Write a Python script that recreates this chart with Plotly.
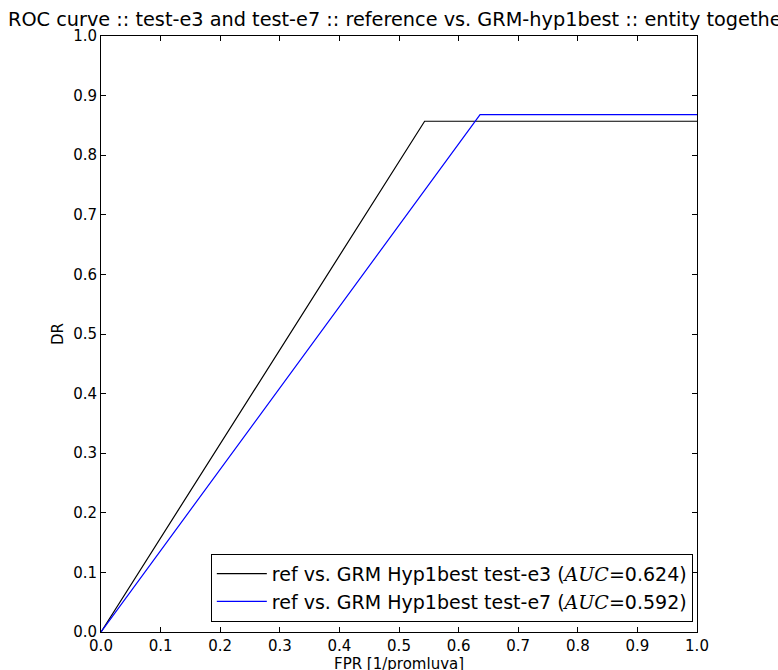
import plotly.graph_objects as go

# Data
fpr_e3 = [0.0, 0.543, 1.0]
dr_e3 = [0.0, 0.857, 0.857]
fpr_e7 = [0.0, 0.636, 1.0]
dr_e7 = [0.0, 0.868, 0.868]
auc_e3 = 0.624
auc_e7 = 0.592
tick_vals = [0.0, 0.1, 0.2, 0.3, 0.4, 0.5, 0.6, 0.7, 0.8, 0.9, 1.0]
tick_text = ["0.0", "0.1", "0.2", "0.3", "0.4", "0.5", "0.6", "0.7", "0.8", "0.9", "1.0"]

FONT = "DejaVu Sans"

def label(name, auc):
    return (f"ref vs. GRM Hyp1best {name} ("
            f"<span style='font-family:DejaVu Serif,serif'><i>AUC</i></span>={auc:.3f})")

fig = go.Figure()
fig.add_trace(go.Scatter(x=fpr_e3, y=dr_e3, mode="lines",
                         line=dict(color="black", width=1.2),
                         name=label("test-e3", auc_e3)))
fig.add_trace(go.Scatter(x=fpr_e7, y=dr_e7, mode="lines",
                         line=dict(color="blue", width=1.2),
                         name=label("test-e7", auc_e7)))

axis_common = dict(range=[0, 1], tickvals=tick_vals, ticktext=tick_text,
                   ticks="inside", ticklen=5, tickwidth=1, tickcolor="black",
                   showline=True, linecolor="black", linewidth=1,
                   mirror="allticks", showgrid=False, zeroline=False,
                   tickfont=dict(family=FONT, size=15, color="black"))

fig.update_layout(
    width=778, height=670,
    margin=dict(l=101, r=81, t=36, b=38),
    paper_bgcolor="white", plot_bgcolor="white",
    font=dict(family=FONT, color="black"),
    xaxis=axis_common,
    yaxis=axis_common,
    showlegend=True,
    legend=dict(x=0.993, y=0.017, xanchor="right", yanchor="bottom",
                bordercolor="black", borderwidth=1, bgcolor="white",
                font=dict(family=FONT, size=19, color="black"),
                itemwidth=50, tracegroupgap=0),
    annotations=[
        dict(text="ROC curve :: test-e3 and test-e7 :: reference vs. GRM-hyp1best :: entity together",
             x=0.5, y=1.0, xref="paper", yref="paper", xanchor="center", yanchor="bottom",
             yshift=3, showarrow=False, font=dict(family=FONT, size=19.3, color="black")),
        dict(text="FPR [1/promluva]", x=0.5, y=0, xref="paper", yref="paper",
             xanchor="center", yanchor="top", yshift=-21, showarrow=False,
             font=dict(family=FONT, size=15, color="black")),
        dict(text="DR", x=0, y=0.5, xref="paper", yref="paper", textangle=-90,
             xanchor="right", yanchor="middle", xshift=-32, showarrow=False,
             font=dict(family=FONT, size=15, color="black")),
    ],
)

fig.write_html("out.html")
